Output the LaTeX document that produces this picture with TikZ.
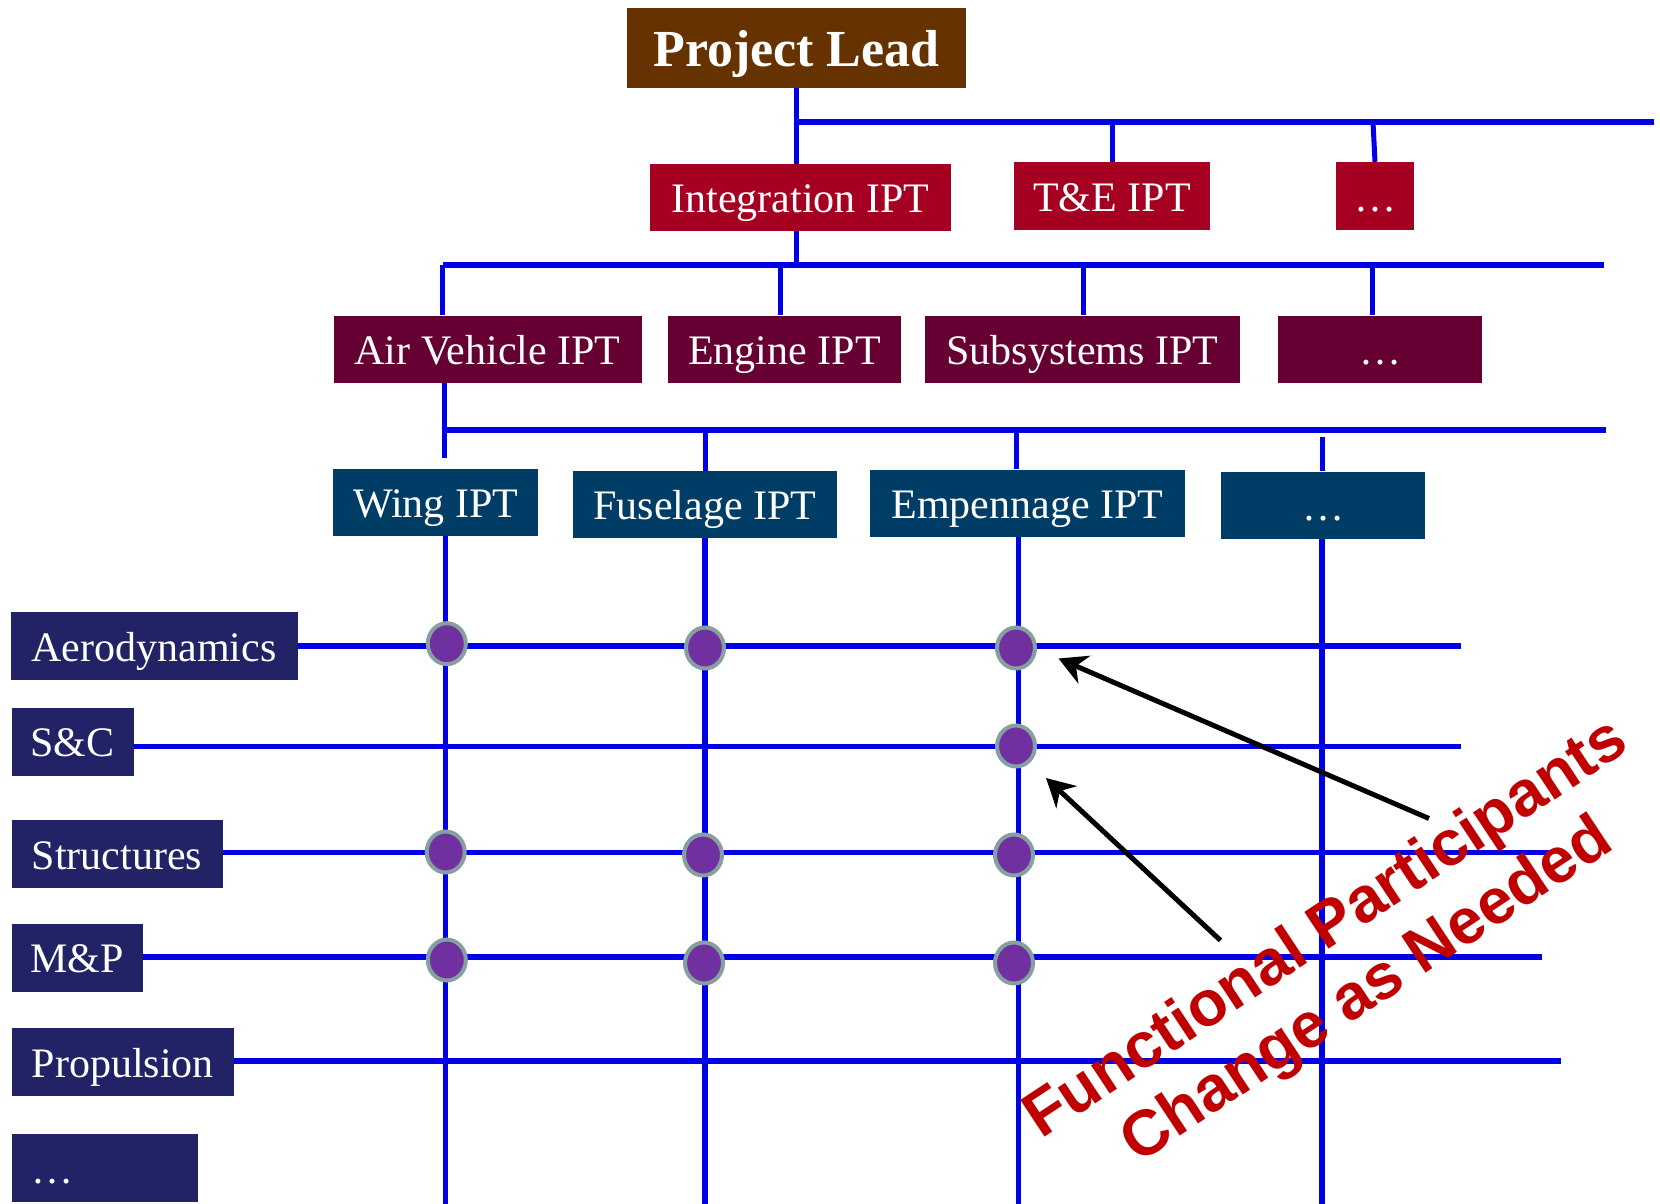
\documentclass[tikz,border=0pt]{standalone}
\usepackage{fontspec}
\setmainfont{Liberation Serif}
\newfontfamily\notesans{Liberation Sans}
\usetikzlibrary{arrows.meta,shapes.geometric}

\definecolor{leadbrown}{HTML}{663300}
\definecolor{tierred}{HTML}{A50021}
\definecolor{tiermaroon}{HTML}{660033}
\definecolor{tierteal}{HTML}{003D66}
\definecolor{funcnavy}{HTML}{222266}
\definecolor{wire}{RGB}{0,0,230}
\definecolor{dotfill}{HTML}{7030A0}
\definecolor{dotrim}{HTML}{86A0A2}
\definecolor{notered}{HTML}{C00000}

\begin{document}
\begin{tikzpicture}[x=1pt,y=-1pt,
  box/.style={inner sep=0pt, minimum height=67pt, text=white,
    text height=40pt, text depth=9.2pt, font=\fontsize{42}{50}\selectfont},
  leadbox/.style={box, fill=leadbrown, minimum height=80pt,
    text height=49.4pt, text depth=11.4pt,
    font=\fontsize{52}{60}\selectfont\bfseries},
  tierA/.style={box, fill=tierred},
  tierB/.style={box, fill=tiermaroon},
  tierC/.style={box, fill=tierteal},
  func/.style={box, fill=funcnavy, minimum height=68pt},
  bus/.style={draw=wire, line width=6pt},
  drop/.style={draw=wire, line width=5pt},
  gridline/.style={draw=wire, line width=5.5pt},
  member/.style={ellipse, fill=dotfill, draw=dotrim, line width=4pt,
    minimum width=38pt, minimum height=41pt, inner sep=0pt},
  pointer/.style={draw=black, line width=5pt,
    -{Stealth[length=28pt,width=30pt,inset=9pt]}},
]
\fill[white] (0,0) rectangle (1660,1204);
\useasboundingbox (0,0) rectangle (1660,1204);

% ---- team boxes ----
\node[leadbox, minimum width=339pt] (lead) at (796.5,48) {Project Lead};

\node[tierA, minimum width=301pt] (integ) at (800.5,197.5) {Integration IPT};
\node[tierA, minimum width=196pt, minimum height=68pt] (te) at (1112,196) {T\&E IPT};
\node[tierA, minimum width=78pt, minimum height=68pt] (moreA) at (1375,196) {…};

\node[tierB, minimum width=308pt] (air) at (487.5,349) {Air Vehicle IPT};
\node[tierB, minimum width=233pt] (engine) at (784.5,349) {Engine IPT};
\node[tierB, minimum width=315pt] (subsys) at (1082.5,349) {Subsystems IPT};
\node[tierB, minimum width=204pt] (moreB) at (1380,349) {…};

\node[tierC, minimum width=205pt] (wing) at (435.7,502.5) {Wing IPT};
\node[tierC, minimum width=264pt] (fuse) at (705,504.5) {Fuselage IPT};
\node[tierC, minimum width=315pt] (emp) at (1027.5,503) {Empennage IPT};
\node[tierC, minimum width=204pt] (moreC) at (1323,505) {…};

% ---- functional disciplines ----
\node[func, minimum width=287pt] (aero) at (154,646) {Aerodynamics};
\node[func, minimum width=122pt] (sc) at (72.5,741.5) {S\&C};
\node[func, minimum width=211pt] (struct) at (117,854) {Structures};
\node[func, minimum width=131pt] (mp) at (77.3,957.5) {M\&P};
\node[func, minimum width=222pt] (prop) at (122.8,1062) {Propulsion};
\node[func, text width=146pt, inner xsep=20pt, align=left] (morefunc) at (104.8,1168) {…};

% ---- hierarchy buses ----
\coordinate (bus1R) at (1654,122);
\coordinate (slant) at (1373,122);
\coordinate (bus2L) at (442.5,265);
\coordinate (bus2R) at (1604,265);
\coordinate (tapE) at (780,265);
\coordinate (tapS) at (1083,265);
\coordinate (tapM) at (1372,265);
\coordinate (bus3L) at (444.6,430);
\coordinate (bus3R) at (1606,430);
\coordinate (avEnd) at (444.6,458);
\coordinate (tapF) at (705,430);
\coordinate (tapEm) at (1016,430);
\coordinate (tapMC) at (1322,437);

\draw[drop] (lead.south) -- (lead.south |- integ.north);
\draw[bus] (lead.south |- bus1R) -- (bus1R);
\draw[drop] (te.north |- bus1R) -- (te.north);
\draw[drop] (slant) -- (moreA.north);

\draw[drop] (lead.south |- integ.south) -- (lead.south |- bus2R);
\draw[bus] (bus2L) -- (bus2R);
\draw[drop] (bus2L) -- (bus2L |- air.north);
\draw[drop] (tapE) -- (tapE |- engine.north);
\draw[drop] (tapS) -- (tapS |- subsys.north);
\draw[drop] (tapM) -- (tapM |- moreB.north);

\draw[drop] (bus3L |- air.south) -- (avEnd);
\draw[bus] (bus3L) -- (bus3R);
\draw[drop] (tapF) -- (tapF |- fuse.north);
\draw[drop] (tapEm) -- (tapEm |- emp.north);
\draw[drop] (tapMC) -- (tapMC |- moreC.north);

% ---- matrix grid ----
\coordinate (col1) at (445.7,1204);
\coordinate (col2) at (705,1204);
\coordinate (col3) at (1018.5,1204);
\coordinate (col4) at (1322,1204);
\draw[gridline] (col1 |- wing.south) -- (col1);
\draw[gridline] (col2 |- fuse.south) -- (col2);
\draw[gridline] (col3 |- emp.south) -- (col3);
\draw[gridline] (col4 |- moreC.south) -- (col4);

\coordinate (rowAe) at (1461,645.8);
\coordinate (rowSC) at (1461,746.4);
\coordinate (rowSt) at (1549,852.3);
\coordinate (rowMP) at (1541.5,957);
\coordinate (rowPr) at (1560.5,1061);
\draw[gridline] (aero.east |- rowAe) -- (rowAe);
\draw[gridline] (sc.east |- rowSC) -- (rowSC);
\draw[gridline] (struct.east |- rowSt) -- (rowSt);
\draw[gridline] (mp.east |- rowMP) -- (rowMP);
\draw[gridline] (prop.east |- rowPr) -- (rowPr);

% ---- participation markers ----
\node[member] (m11) at (446.8,643.7) {};
\node[member] (m12) at (705,648) {};
\node[member] (m13) at (1016,648) {};
\node[member] (m23) at (1016,746) {};
\node[member] (m31) at (445.7,852) {};
\node[member] (m32) at (703,855) {};
\node[member] (m33) at (1014,855) {};
\node[member] (m41) at (446.8,960) {};
\node[member] (m42) at (704,963) {};
\node[member] (m43) at (1014,963) {};

% ---- callout ----
\coordinate (tail1) at (1429,818.5);
\coordinate (tip1) at (1058.5,658.5);
\coordinate (tail2) at (1220.5,940.4);
\coordinate (tip2) at (1046,778);
\draw[pointer] (tail1) -- (tip1);
\draw[pointer] (tail2) -- (tip2);

\node[rotate=33.5, align=center, text=notered, inner sep=0pt,
  font=\fontsize{64}{74}\selectfont\notesans\bfseries] (note) at (1347.5,961.5)
  {Functional Participants\\Change as Needed};
\end{tikzpicture}
\end{document}
